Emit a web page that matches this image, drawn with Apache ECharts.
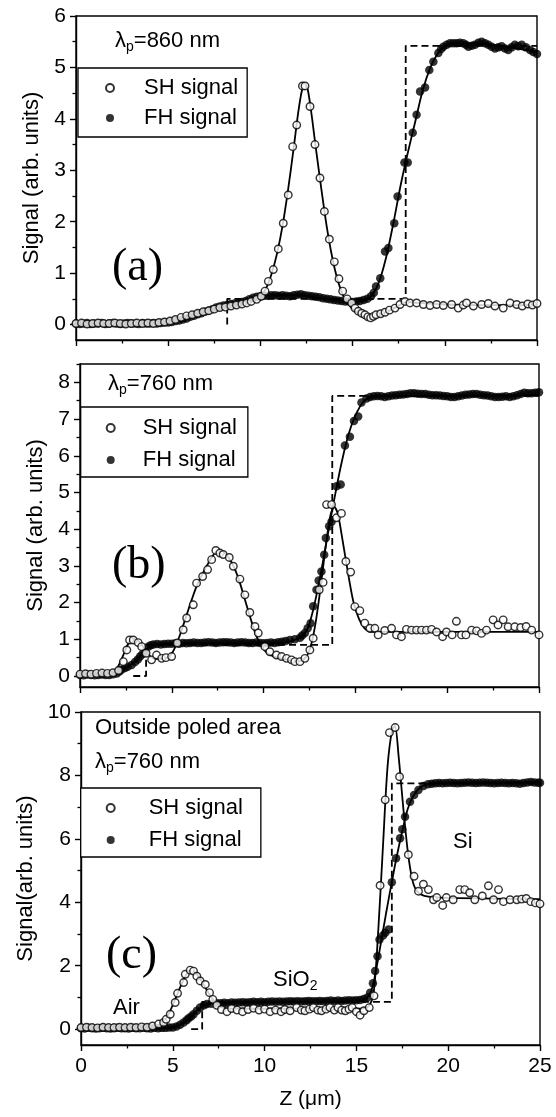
<!DOCTYPE html>
<html><head><meta charset="utf-8">
<script src="https://cdn.jsdelivr.net/npm/echarts@6/dist/echarts.min.js"></script>
<style>html,body{margin:0;padding:0;background:#fff}#c{width:556px;height:1117px}</style>
</head><body><div id="c"></div>
<script>
// ---------- tick values ----------
const xTicks = [0, 5, 10, 15, 20, 25];
const yTicksA = [0, 1, 2, 3, 4, 5, 6];
const yMinorA = [0.5, 1.5, 2.5, 3.5, 4.5, 5.5];
const yTicksB = [0, 1, 2, 3, 4, 5, 6, 7, 8];
const yMinorB = [0.5, 1.5, 2.5, 3.5, 4.5, 5.5, 6.5, 7.5, 8.5];
const yTicksC = [0, 2, 4, 6, 8, 10];
const yMinorC = [1, 3, 5, 7, 9];

// ---------- panel (a) : lambda_p = 860 nm ----------
const shA = [[0,0.02],[0.3,0.03],[0.6,0.01],[0.9,0.02],[1.2,0.03],[1.5,0.02],[1.8,0.02],[2.1,0.03],[2.4,0.02],[2.7,0.01],[3.0,0.02],[3.3,0.03],[3.6,0.02],[3.9,0.03],[4.2,0.02],[4.5,0.04],[4.8,0.05],[5.1,0.07],[5.4,0.1],[5.7,0.14],[6.0,0.17],[6.3,0.19],[6.6,0.22],[6.9,0.25],[7.2,0.27],[7.5,0.3],[7.8,0.33],[8.1,0.34],[8.4,0.36],[8.7,0.38],[9.0,0.4],[9.26,0.42],[9.5,0.45],[9.8,0.49],[10.05,0.55],[10.25,0.65],[10.43,0.84],[10.7,1.07],[10.97,1.47],[11.24,1.97],[11.51,2.52],[11.75,3.46],[11.97,3.88],[12.28,4.64],[12.42,4.64],[12.69,4.24],[12.96,3.5],[13.23,2.85],[13.47,2.2],[13.74,1.66],[14.01,1.22],[14.26,0.89],[14.46,0.65],[14.7,0.5],[14.95,0.42],[15.13,0.32],[15.31,0.26],[15.5,0.22],[15.67,0.19],[15.83,0.15],[15.98,0.13],[16.13,0.16],[16.27,0.19],[16.52,0.21],[16.76,0.24],[17.0,0.28],[17.3,0.32],[17.57,0.39],[17.84,0.45],[18.11,0.42],[18.47,0.42],[18.84,0.39],[19.2,0.37],[19.56,0.39],[19.92,0.37],[20.37,0.39],[20.73,0.32],[21.0,0.38],[21.18,0.42],[21.55,0.36],[22.0,0.39],[22.36,0.41],[22.72,0.36],[23.17,0.32],[23.54,0.42],[23.9,0.39],[24.2,0.36],[24.5,0.4],[24.75,0.38],[25,0.41]];
const fhA = [[0,0.02],[0.2,0.01],[0.4,0.02],[0.6,0.03],[0.8,0.01],[1,0.02],[1.2,0.02],[1.4,0.03],[1.6,0.01],[1.8,0.02],[2,0.03],[2.2,0.02],[2.4,0.01],[2.6,0.02],[2.8,0.03],[3,0.02],[3.2,0.02],[3.4,0.01],[3.6,0.03],[3.8,0.02],[4,0.02],[4.2,0.03],[4.4,0.02],[4.6,0.03],[4.8,0.04],[5,0.04],[5.2,0.05],[5.4,0.07],[5.6,0.08],[5.8,0.1],[6,0.12],[6.2,0.15],[6.4,0.17],[6.6,0.2],[6.8,0.22],[7,0.25],[7.2,0.27],[7.4,0.3],[7.6,0.33],[7.8,0.35],[8,0.37],[8.2,0.38],[8.4,0.4],[8.6,0.41],[8.8,0.42],[9,0.44],[9.2,0.46],[9.4,0.49],[9.6,0.52],[9.8,0.54],[10,0.55],[10.2,0.56],[10.4,0.56],[10.6,0.57],[10.8,0.57],[11,0.56],[11.2,0.57],[11.4,0.56],[11.6,0.55],[11.8,0.57],[12,0.58],[12.2,0.59],[12.4,0.57],[12.6,0.56],[12.8,0.55],[13,0.54],[13.2,0.53],[13.4,0.51],[13.6,0.5],[13.8,0.49],[14,0.48],[14.2,0.47],[14.4,0.46],[14.6,0.45],[14.8,0.45],[15,0.44],[15.2,0.45],[15.4,0.46],[15.6,0.48],[15.8,0.5],[16,0.55],[16.15,0.62],[16.27,0.74],[16.5,0.9],[16.76,1.42],[16.94,1.49],[17.26,1.97],[17.44,2.49],[17.81,3.15],[17.99,3.15],[18.26,3.73],[18.47,4.08],[18.66,4.53],[18.93,4.61],[19.16,4.95],[19.38,5.11],[19.65,5.28],[19.8,5.36],[19.92,5.4],[20.1,5.44],[20.28,5.47],[20.46,5.47],[20.64,5.47],[20.82,5.48],[21,5.47],[21.15,5.44],[21.28,5.4],[21.46,5.42],[21.64,5.44],[21.82,5.48],[22,5.5],[22.18,5.47],[22.36,5.44],[22.54,5.4],[22.72,5.37],[22.9,5.39],[23.08,5.41],[23.26,5.37],[23.44,5.34],[23.62,5.39],[23.8,5.44],[23.98,5.41],[24.17,5.44],[24.4,5.39],[24.62,5.34],[24.8,5.3],[25,5.26]];
const shFitA = [[0,0.02],[5,0.04],[6,0.15],[7,0.25],[8,0.35],[9,0.42],[9.6,0.48],[10,0.56],[10.3,0.7],[10.6,0.98],[10.9,1.38],[11.2,1.92],[11.5,2.62],[11.8,3.42],[12.05,4.12],[12.25,4.55],[12.4,4.68],[12.55,4.6],[12.75,4.15],[13.0,3.45],[13.3,2.65],[13.6,1.9],[13.9,1.3],[14.2,0.85],[14.5,0.55],[14.8,0.38],[15.1,0.27],[15.5,0.19],[15.9,0.16],[16.3,0.18],[16.8,0.24],[17.3,0.33],[17.7,0.41],[18.0,0.44],[18.5,0.42],[20,0.39],[22,0.38],[25,0.38]];
const fhFitA = [[0,0.02],[5,0.03],[6,0.12],[7,0.25],[8,0.37],[9,0.45],[10,0.55],[11,0.57],[12,0.57],[13,0.53],[14,0.48],[15,0.45],[15.5,0.46],[16,0.55],[16.4,0.8],[16.8,1.28],[17.2,1.95],[17.6,2.7],[18.0,3.35],[18.4,3.95],[18.8,4.55],[19.2,4.98],[19.6,5.26],[20.0,5.41],[20.5,5.47],[22,5.46],[25,5.3]];
const stepA = [[8.2,0],[8.2,0.5],[17.88,0.5],[17.88,5.42],[25,5.42]];

// ---------- panel (b) : lambda_p = 760 nm ----------
const shB = [[0,0.05],[0.3,0.06],[0.6,0.05],[0.9,0.07],[1.2,0.08],[1.5,0.07],[1.8,0.09],[2.1,0.15],[2.36,0.39],[2.55,0.71],[2.7,0.98],[2.9,0.98],[3.17,0.91],[3.36,0.8],[3.6,0.62],[3.9,0.44],[4.17,0.57],[4.45,0.48],[4.68,0.5],[4.99,0.53],[5.3,0.9],[5.62,1.26],[5.81,1.58],[6.17,1.94],[6.35,2.53],[6.68,2.71],[6.95,2.9],[7.17,3.17],[7.4,3.42],[7.62,3.35],[7.8,3.31],[8.13,3.23],[8.35,2.99],[8.71,2.64],[8.98,2.21],[9.25,1.73],[9.53,1.35],[9.71,1.17],[10.07,0.8],[10.34,0.66],[10.7,0.57],[10.98,0.53],[11.25,0.48],[11.52,0.44],[11.7,0.39],[11.98,0.39],[12.25,0.48],[12.52,0.71],[12.7,1.03],[13.03,2.35],[13.24,2.55],[13.43,4.67],[13.7,4.67],[13.97,4.31],[14.24,4.43],[14.48,3.12],[14.74,2.83],[14.97,1.89],[15.24,1.78],[15.51,1.44],[15.79,1.3],[16.06,1.3],[16.24,1.12],[16.6,1.24],[16.97,1.3],[17.24,1.12],[17.51,1.07],[17.78,1.27],[18.06,1.25],[18.33,1.25],[18.6,1.25],[18.87,1.25],[19.15,1.27],[19.42,1.2],[19.75,1.07],[19.96,1.2],[20.27,1.12],[20.5,1.49],[20.78,1.12],[21.02,1.12],[21.33,1.25],[21.6,1.23],[21.87,1.16],[22.14,1.25],[22.5,1.53],[22.77,1.39],[23.05,1.53],[23.32,1.34],[23.68,1.34],[24.0,1.32],[24.3,1.35],[24.6,1.25],[25,1.12]];
const fhB = [[0,0.03],[0.2,0.02],[0.4,0.04],[0.6,0.03],[0.8,0.02],[1,0.03],[1.2,0.04],[1.4,0.03],[1.6,0.03],[1.8,0.05],[2,0.07],[2.15,0.12],[2.27,0.18],[2.45,0.22],[2.6,0.25],[2.81,0.3],[3,0.38],[3.15,0.45],[3.27,0.53],[3.4,0.6],[3.54,0.66],[3.72,0.8],[3.85,0.84],[4,0.86],[4.2,0.87],[4.4,0.86],[4.6,0.87],[4.8,0.88],[5,0.88],[5.2,0.89],[5.4,0.88],[5.6,0.9],[5.8,0.89],[6,0.9],[6.2,0.91],[6.4,0.9],[6.6,0.9],[6.8,0.91],[7,0.92],[7.2,0.91],[7.4,0.9],[7.6,0.91],[7.8,0.92],[8,0.92],[8.2,0.91],[8.4,0.9],[8.6,0.91],[8.8,0.92],[9,0.91],[9.2,0.9],[9.4,0.9],[9.6,0.91],[9.8,0.9],[10,0.89],[10.2,0.9],[10.4,0.91],[10.6,0.9],[10.8,0.92],[11,0.93],[11.2,0.95],[11.43,0.98],[11.7,1.0],[11.98,1.04],[12.1,1.1],[12.25,1.17],[12.4,1.3],[12.56,1.44],[12.7,1.9],[12.88,2.35],[13.0,2.6],[13.15,2.85],[13.3,3.3],[13.39,3.76],[13.57,4.08],[13.7,4.2],[13.97,5.17],[14.2,5.22],[14.43,6.28],[14.7,6.52],[14.92,6.95],[15.15,7.07],[15.33,7.45],[15.6,7.56],[15.8,7.6],[16,7.62],[16.2,7.63],[16.4,7.62],[16.6,7.6],[16.8,7.62],[17,7.64],[17.2,7.65],[17.4,7.66],[17.6,7.67],[17.8,7.68],[18,7.7],[18.2,7.7],[18.4,7.69],[18.6,7.68],[18.8,7.68],[19,7.66],[19.2,7.65],[19.4,7.65],[19.6,7.64],[19.8,7.63],[20,7.62],[20.2,7.6],[20.4,7.6],[20.6,7.62],[20.8,7.64],[21,7.66],[21.2,7.67],[21.4,7.68],[21.6,7.68],[21.8,7.66],[22,7.65],[22.2,7.64],[22.4,7.62],[22.6,7.6],[22.8,7.6],[23,7.61],[23.2,7.62],[23.4,7.6],[23.6,7.62],[23.8,7.65],[24,7.68],[24.2,7.72],[24.4,7.7],[24.6,7.7],[24.8,7.72],[25,7.73]];
const shFitB = [[0,0.05],[1.6,0.07],[2.0,0.2],[2.3,0.5],[2.6,0.85],[2.9,1.02],[3.2,0.95],[3.5,0.75],[3.8,0.55],[4.1,0.47],[4.5,0.47],[4.9,0.55],[5.2,0.8],[5.5,1.2],[5.8,1.65],[6.1,2.1],[6.4,2.5],[6.8,2.9],[7.2,3.25],[7.5,3.4],[7.8,3.38],[8.1,3.22],[8.4,2.95],[8.7,2.55],[9.0,2.05],[9.3,1.55],[9.6,1.1],[9.9,0.8],[10.2,0.62],[10.6,0.52],[11.0,0.47],[11.5,0.42],[11.9,0.4],[12.2,0.45],[12.5,0.7],[12.8,1.35],[13.1,2.4],[13.4,3.6],[13.65,4.4],[13.85,4.6],[14.05,4.4],[14.3,3.7],[14.6,2.8],[14.9,2.0],[15.2,1.55],[15.5,1.3],[15.9,1.2],[16.5,1.2],[25,1.2]];
const fhFitB = [[0,0.03],[1.8,0.05],[2.2,0.12],[2.6,0.25],[3.0,0.4],[3.4,0.6],[3.8,0.8],[4.2,0.86],[5,0.88],[11,0.9],[11.6,0.97],[12.0,1.05],[12.4,1.3],[12.7,1.8],[13.0,2.5],[13.3,3.3],[13.6,4.15],[13.9,4.95],[14.2,5.7],[14.5,6.35],[14.8,6.85],[15.1,7.2],[15.4,7.45],[15.7,7.57],[16.1,7.62],[25,7.65]];
const stepB = [[2.9,0],[3.6,0],[3.6,0.85],[13.74,0.85],[13.74,7.63],[25,7.63]];

// ---------- panel (c) : outside poled area, lambda_p = 760 nm ----------
const shC = [[0,0.05],[0.3,0.06],[0.6,0.05],[0.9,0.04],[1.2,0.06],[1.5,0.05],[1.8,0.05],[2.1,0.06],[2.4,0.05],[2.7,0.06],[3.0,0.05],[3.3,0.07],[3.6,0.06],[3.9,0.1],[4.23,0.16],[4.5,0.21],[4.64,0.31],[4.86,0.47],[5.13,0.84],[5.26,1.13],[5.59,1.47],[5.68,1.73],[5.95,1.86],[6.13,1.83],[6.31,1.67],[6.49,1.52],[6.77,1.41],[7.0,1.15],[7.18,0.94],[7.4,0.75],[7.65,0.62],[7.95,0.55],[8.2,0.65],[8.5,0.6],[8.8,0.55],[9.1,0.62],[9.4,0.66],[9.7,0.6],[10.0,0.63],[10.3,0.55],[10.6,0.6],[10.9,0.55],[11.1,0.62],[11.39,0.58],[11.75,0.68],[12.0,0.6],[12.2,0.58],[12.45,0.63],[12.66,0.68],[12.9,0.6],[13.1,0.58],[13.35,0.63],[13.56,0.68],[13.8,0.6],[14.0,0.68],[14.2,0.6],[14.4,0.58],[14.6,0.63],[14.77,0.68],[15.0,0.55],[15.2,0.44],[15.41,0.58],[15.7,0.68],[15.96,1.05],[16.29,4.53],[16.57,7.23],[16.8,9.35],[17.11,9.51],[17.35,7.96],[17.83,5.5],[18.14,4.82],[18.38,4.35],[18.65,4.57],[18.92,4.4],[19.2,4.08],[19.38,4.15],[19.7,3.9],[19.9,4.15],[20.27,4.08],[20.63,4.4],[20.9,4.4],[21.17,4.3],[21.45,4.08],[21.86,4.2],[22.19,4.52],[22.47,4.08],[22.74,4.4],[23.01,4.02],[23.37,4.08],[23.74,4.08],[24.0,4.1],[24.25,4.12],[24.5,4.02],[24.75,3.98],[25,3.95]];
const fhC = [[0,0.03],[0.2,0.02],[0.4,0.04],[0.6,0.03],[0.8,0.02],[1,0.03],[1.2,0.04],[1.4,0.03],[1.6,0.02],[1.8,0.03],[2,0.04],[2.2,0.03],[2.4,0.03],[2.6,0.02],[2.8,0.04],[3,0.03],[3.2,0.03],[3.4,0.04],[3.6,0.03],[3.8,0.02],[4,0.04],[4.2,0.03],[4.4,0.04],[4.6,0.04],[4.8,0.05],[5,0.05],[5.2,0.08],[5.4,0.14],[5.59,0.21],[5.75,0.28],[5.86,0.34],[6,0.4],[6.13,0.47],[6.31,0.58],[6.49,0.68],[6.7,0.75],[6.86,0.79],[7.1,0.8],[7.4,0.82],[7.6,0.82],[7.8,0.83],[8,0.82],[8.2,0.84],[8.4,0.83],[8.6,0.84],[8.8,0.85],[9,0.84],[9.2,0.85],[9.4,0.86],[9.6,0.85],[9.8,0.86],[10,0.85],[10.2,0.86],[10.4,0.87],[10.6,0.86],[10.8,0.87],[11,0.86],[11.2,0.87],[11.4,0.88],[11.6,0.87],[11.8,0.88],[12,0.87],[12.2,0.88],[12.4,0.89],[12.6,0.88],[12.8,0.88],[13,0.89],[13.2,0.88],[13.4,0.89],[13.6,0.9],[13.8,0.89],[14,0.9],[14.2,0.89],[14.4,0.9],[14.6,0.91],[14.8,0.9],[15,0.91],[15.2,0.92],[15.4,0.95],[15.6,1.0],[15.75,1.15],[15.9,1.45],[16.02,1.83],[16.15,2.3],[16.26,2.83],[16.45,2.95],[16.57,3.04],[16.75,3.14],[16.93,4.63],[17.16,5.39],[17.38,6.02],[17.5,6.3],[17.65,6.7],[17.92,7.17],[18.14,7.38],[18.38,7.54],[18.65,7.67],[18.9,7.72],[19.1,7.74],[19.3,7.75],[19.5,7.76],[19.7,7.75],[19.9,7.76],[20.1,7.77],[20.3,7.76],[20.5,7.75],[20.7,7.76],[20.9,7.77],[21.1,7.78],[21.3,7.77],[21.5,7.76],[21.7,7.77],[21.9,7.78],[22.1,7.77],[22.3,7.76],[22.5,7.75],[22.7,7.76],[22.9,7.77],[23.1,7.76],[23.3,7.75],[23.5,7.76],[23.7,7.75],[23.9,7.74],[24.1,7.76],[24.3,7.78],[24.5,7.79],[24.7,7.78],[24.9,7.77],[25,7.77]];
const shFitC = [[0,0.05],[3.8,0.06],[4.3,0.15],[4.7,0.4],[5.1,0.9],[5.5,1.45],[5.8,1.78],[6.0,1.85],[6.2,1.8],[6.5,1.58],[6.8,1.28],[7.1,1.0],[7.4,0.78],[7.7,0.68],[8.2,0.65],[15.3,0.65],[15.7,0.75],[15.95,1.2],[16.2,3.2],[16.45,5.8],[16.7,8.3],[16.95,9.45],[17.1,9.55],[17.3,8.6],[17.55,7.0],[17.8,5.6],[18.05,4.7],[18.3,4.35],[18.7,4.2],[19.5,4.15],[25,4.1]];
const fhFitC = [[0,0.03],[4.8,0.04],[5.2,0.08],[5.6,0.2],[6.0,0.4],[6.4,0.63],[6.8,0.77],[7.3,0.82],[10,0.85],[15,0.88],[15.5,0.95],[15.8,1.2],[16.0,1.65],[16.3,2.6],[16.6,3.6],[16.9,4.55],[17.2,5.45],[17.5,6.25],[17.8,6.95],[18.1,7.35],[18.4,7.58],[18.8,7.72],[19.5,7.76],[25,7.78]];
const stepC = [[6.0,0],[6.6,0],[6.6,0.86],[16.93,0.86],[16.93,7.75],[25,7.75]];

// ---------- layout / style ----------
const FONT = 'Liberation Sans, Arial, Helvetica, sans-serif';
const SERIF = 'Liberation Serif, Times New Roman, serif';
const panels = [
  {grid:{left:76, right:19, top:16, height:324}, ymin:-0.3, ymax:6, ticks:yTicksA, minor:yMinorA,
   name:'Signal (arb. units)', sh:shA, fh:fhA, shFit:shFitA, fhFit:fhFitA, step:stepA, xLabels:false},
  {grid:{left:80, right:17, top:364, height:323}, ymin:-0.3, ymax:8.5, ticks:yTicksB, minor:yMinorB,
   name:'Signal (arb. units)', sh:shB, fh:fhB, shFit:shFitB, fhFit:fhFitB, step:stepB, xLabels:false},
  {grid:{left:81, right:16, top:712, height:333}, ymin:-0.5, ymax:10, ticks:yTicksC, minor:yMinorC,
   name:'Signal(arb. units)', sh:shC, fh:fhC, shFit:shFitC, fhFit:fhFitC, step:stepC, xLabels:true}
];
const legendPos = [
  {left:78, top:68, itemGap:8, padding:[9,9,8,27], textPad:25},
  {left:80.7, top:407, itemGap:10, padding:[10,11,6,25], textPad:23},
  {left:80.7, top:788, itemGap:10, padding:[9,18,6,25], textPad:29}
];

const grids = [], xAxes = [], yAxes = [], series = [], legends = [];
panels.forEach((p, i) => {
  grids.push(Object.assign({show:true, borderColor:'#000', borderWidth:1.4, backgroundColor:'transparent'}, p.grid));
  xAxes.push({
    type:'value', gridIndex:i, min:0, max:25, interval:5,
    axisLine:{show:true, onZero:false, lineStyle:{color:'#000', width:1.4}},
    axisTick:{show:true, length:6, lineStyle:{color:'#000', width:1.4}},
    minorTick:{show:true, splitNumber:2, length:3.5, lineStyle:{color:'#000', width:1.3}},
    splitLine:{show:false}, minorSplitLine:{show:false},
    axisLabel:{show:p.xLabels, fontSize:21, fontFamily:FONT, color:'#000', margin:11},
    name: p.xLabels ? 'Z (\u03bcm)' : '', nameLocation:'middle', nameGap:44,
    nameTextStyle:{fontSize:21, fontFamily:FONT, color:'#000'}
  });
  yAxes.push({
    type:'value', gridIndex:i, min:p.ymin, max:p.ymax, position:'left',
    axisLine:{show:true, onZero:false, lineStyle:{color:'#000', width:1.4}},
    axisTick:{show:true, length:6, customValues:p.ticks, lineStyle:{color:'#000', width:1.4}},
    axisLabel:{show:true, customValues:p.ticks, fontSize:21, fontFamily:FONT, color:'#000', margin:10},
    splitLine:{show:false},
    name:p.name, nameLocation:'middle', nameGap:33,
    nameTextStyle:{fontSize:22, fontFamily:FONT, color:'#000'}
  });
  yAxes.push({
    type:'value', gridIndex:i, min:p.ymin, max:p.ymax, position:'left', offset:0,
    axisLine:{show:false},
    axisTick:{show:true, length:3.5, customValues:p.minor, lineStyle:{color:'#000', width:1.3}},
    axisLabel:{show:false}, splitLine:{show:false}
  });
  const yi = 2 * i;
  series.push({type:'line', name:'step profile', xAxisIndex:i, yAxisIndex:yi, data:p.step,
    showSymbol:false, symbol:'none', lineStyle:{color:'#000', width:1.8, type:[7,4]}, z:1, silent:true});
  series.push({type:'line', name:'SH fit', xAxisIndex:i, yAxisIndex:yi, data:p.shFit,
    showSymbol:false, symbol:'none', smooth:0.3, lineStyle:{color:'#000', width:1.8}, z:2, silent:true});
  series.push({type:'line', name:'FH fit', xAxisIndex:i, yAxisIndex:yi, data:p.fhFit,
    showSymbol:false, symbol:'none', smooth:0.3, lineStyle:{color:'#000', width:1.8}, z:2, silent:true});
  series.push({type:'scatter', name:'FH signal', xAxisIndex:i, yAxisIndex:yi, data:p.fh,
    symbol:'circle', symbolSize:8.5, itemStyle:{color:'#000'}, z:3});
  series.push({type:'scatter', name:'SH signal', xAxisIndex:i, yAxisIndex:yi, data:p.sh,
    symbol:'circle', symbolSize:7.5, itemStyle:{color:'#fff', borderColor:'#000', borderWidth:1.4}, z:4});
  const L = legendPos[i];
  legends.push({
    left:L.left, top:L.top, orient:'vertical', data:['SH signal', 'FH signal'],
    itemWidth:8, itemHeight:8, itemGap:L.itemGap, padding:L.padding,
    borderColor:'#000', borderWidth:1.3, backgroundColor:'#fff', selectedMode:false,
    textStyle:{fontSize:22, fontFamily:FONT, color:'#000', lineHeight:22, padding:[0,0,0,L.textPad]}
  });
});

const subRich = {
  a:{fontSize:22, fontFamily:FONT, color:'#000'},
  s:{fontSize:14, fontFamily:FONT, color:'#000', padding:[13,0,0,0]}
};
function txt(x, y, text, opts) {
  return {type:'text', x:x, y:y, z:100, style:Object.assign({text:text, fill:'#000',
    font:'22px ' + FONT, verticalAlign:'middle', align:'left'}, opts || {})};
}
const graphics = [
  txt(115, 41, '{a|\u03bb}{s|p}{a|=860 nm}', {rich:subRich}),
  txt(112, 268, '(a)', {font:'46px ' + SERIF}),
  txt(108, 384, '{a|\u03bb}{s|p}{a|=760 nm}', {rich:subRich}),
  txt(112, 566, '(b)', {font:'46px ' + SERIF}),
  txt(95, 728, 'Outside poled area', {font:'22px ' + FONT}),
  txt(95, 762, '{a|\u03bb}{s|p}{a|=760 nm}', {rich:subRich}),
  txt(106, 956, '(c)', {font:'46px ' + SERIF}),
  txt(113, 1008, 'Air', {font:'22px ' + FONT}),
  txt(273, 980, '{a|SiO}{s|2}', {rich:subRich}),
  txt(453, 842, 'Si', {font:'22px ' + FONT})
];

const chart = echarts.init(document.getElementById('c'), null, {renderer:'canvas'});
chart.setOption({
  animation:false, backgroundColor:'#fff',
  grid:grids, xAxis:xAxes, yAxis:yAxes, legend:legends, series:series, graphic:graphics
});
</script>
</body></html>
